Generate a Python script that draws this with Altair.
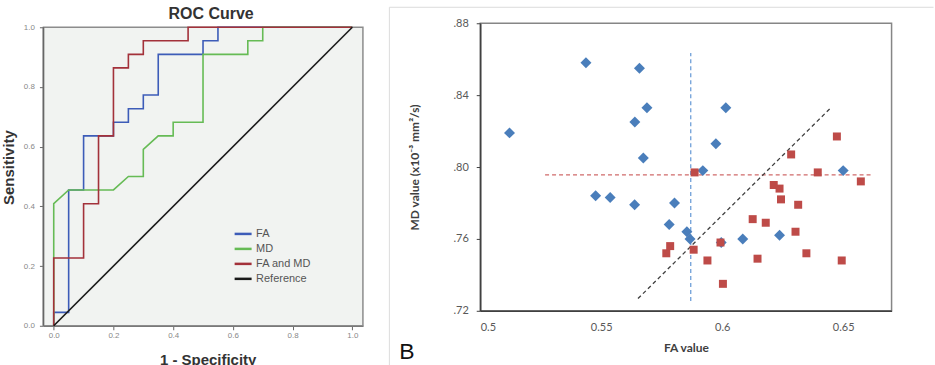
import altair as alt
import pandas as pd

# ---------------- Panel A: ROC curves ----------------
curve_names = ["FA", "MD", "FA and MD", "Reference"]
curve_colors = ["#3d5cb8", "#66bb55", "#a3313a", "#1a1a1a"]

fa_fpr = [0.0, 0.0, 0.05, 0.05, 0.10, 0.10, 0.20, 0.20, 0.25, 0.25, 0.30, 0.30, 0.35, 0.35, 0.50, 0.50, 0.55, 0.55, 1.0]
fa_tpr = [0.0, 0.045, 0.045, 0.455, 0.455, 0.636, 0.636, 0.682, 0.682, 0.727, 0.727, 0.773, 0.773, 0.909, 0.909, 0.955, 0.955, 1.0, 1.0]

md_fpr = [0.0, 0.0, 0.05, 0.20, 0.25, 0.30, 0.30, 0.35, 0.40, 0.40, 0.50, 0.50, 0.65, 0.65, 0.70, 0.70, 1.0]
md_tpr = [0.0, 0.409, 0.455, 0.455, 0.5, 0.5, 0.591, 0.636, 0.636, 0.682, 0.682, 0.909, 0.909, 0.955, 0.955, 1.0, 1.0]

both_fpr = [0.0, 0.0, 0.10, 0.10, 0.15, 0.15, 0.20, 0.20, 0.25, 0.25, 0.30, 0.30, 0.45, 0.45, 1.0]
both_tpr = [0.0, 0.227, 0.227, 0.409, 0.409, 0.636, 0.636, 0.864, 0.864, 0.909, 0.909, 0.955, 0.955, 1.0, 1.0]

ref_fpr = [0.0, 1.0]
ref_tpr = [0.0, 1.0]

axis_ticks = [0.0, 0.2, 0.4, 0.6, 0.8, 1.0]
roc_x_range = [-0.0345, 1.0355]   # plotting frame in data units
roc_y_range = [0.0, 1.0]

# ---------------- Panel B: FA vs MD scatter ----------------
blue_fa = [0.5121, 0.5437, 0.5658, 0.5689, 0.5639, 0.5674, 0.6015, 0.5974, 0.5920, 0.5477,
           0.5537, 0.5638, 0.5803, 0.5781, 0.5854, 0.5867, 0.5996, 0.6085, 0.6237, 0.6500]
blue_md = [0.819, 0.858, 0.855, 0.833, 0.825, 0.805, 0.833, 0.813, 0.798, 0.784,
           0.783, 0.779, 0.780, 0.768, 0.764, 0.760, 0.758, 0.760, 0.762, 0.798]

red_fa = [0.5769, 0.5785, 0.5882, 0.5886, 0.5939, 0.5993, 0.6003, 0.6126, 0.6146, 0.6180, 0.6213,
          0.6237, 0.6243, 0.6285, 0.6314, 0.6303, 0.6348, 0.6395, 0.6474, 0.6494, 0.6573]
red_md = [0.752, 0.756, 0.754, 0.797, 0.748, 0.758, 0.735, 0.771, 0.749, 0.769, 0.790,
          0.788, 0.782, 0.807, 0.779, 0.764, 0.752, 0.797, 0.817, 0.748, 0.792]

fa_cutoff = 0.587
fa_cutoff_span = [0.7255, 0.8634]
md_cutoff = 0.7956
md_cutoff_span = [0.5268, 0.6617]
split_fa = [0.5652, 0.6444]
split_md = [0.7268, 0.8323]

fa_ticks = [0.5, 0.55, 0.6, 0.65]
md_ticks = [0.72, 0.76, 0.80, 0.84, 0.88]

# ---------------- build tables ----------------
rows = []
for name, xs, ys in [("FA", fa_fpr, fa_tpr), ("MD", md_fpr, md_tpr),
                     ("FA and MD", both_fpr, both_tpr), ("Reference", ref_fpr, ref_tpr)]:
    for i, (a, b) in enumerate(zip(xs, ys)):
        rows.append({"curve": name, "fpr": a, "tpr": b, "idx": i})
roc_df = pd.DataFrame(rows)

SPSS_FONT = "Liberation Sans"
XL_FONT = "Lato"

# the y scale leaves a little headroom above 1.0 so this panel's frame
# sits slightly lower than the scatter panel's frame
roc_sx = alt.Scale(domain=roc_x_range, nice=False, zero=False)
roc_sy = alt.Scale(domain=[0.0, 1.01338], nice=False, zero=False)

roc_x_axis = alt.Axis(values=axis_ticks, format=".1f", grid=False,
                      labelFont=SPSS_FONT, labelFontSize=8, labelColor="#888888",
                      tickSize=4, tickColor="#666666", domainColor="#666666", domainWidth=1.6,
                      labelPadding=2,
                      title="1 - Specificity", titleFont=SPSS_FONT, titleFontSize=15,
                      titleFontWeight="bold", titleColor="#333333",
                      titleX=164.5, titleY=39, titleBaseline="alphabetic", titleAlign="center")
roc_y_axis = alt.Axis(values=axis_ticks, format=".1f", grid=False, domain=False,
                      labelFont=SPSS_FONT, labelFontSize=8, labelColor="#888888",
                      tickSize=4, tickColor="#666666",
                      labelPadding=5,
                      title="Sensitivity", titleFont=SPSS_FONT, titleFontSize=15,
                      titleFontWeight="bold", titleColor="#333333",
                      titleX=-34.5, titleY=144, titleBaseline="middle", titleAngle=270,
                      titleAlign="center")

frame_df = pd.DataFrame({"x1": [roc_x_range[0]], "x2": [roc_x_range[1]],
                         "y1": [roc_y_range[0]], "y2": [roc_y_range[1]]})
roc_frame = alt.Chart(frame_df).mark_rect(fill="#f1f3f1", stroke="#8c8c8c", strokeWidth=1.5).encode(
    x=alt.X("x1:Q", scale=roc_sx, axis=roc_x_axis),
    x2="x2:Q",
    y=alt.Y("y1:Q", scale=roc_sy, axis=roc_y_axis),
    y2="y2:Q",
)
roc_left_edge = alt.Chart(frame_df).mark_rule(color="#666666", strokeWidth=1.6).encode(
    x=alt.X("x1:Q", scale=roc_sx, axis=roc_x_axis),
    y=alt.Y("y1:Q", scale=roc_sy, axis=roc_y_axis),
    y2="y2:Q",
)

roc_lines = alt.Chart(roc_df).mark_line(strokeWidth=1.6).encode(
    x=alt.X("fpr:Q", scale=roc_sx, axis=roc_x_axis),
    y=alt.Y("tpr:Q", scale=roc_sy, axis=roc_y_axis),
    color=alt.Color(
        "curve:N",
        scale=alt.Scale(domain=curve_names, range=curve_colors),
        legend=alt.Legend(title=None, orient="none", legendX=190, legendY=201,
                          symbolType="stroke", symbolSize=289, symbolStrokeWidth=2.5,
                          labelFont=SPSS_FONT, labelFontSize=11, labelColor="#555555",
                          rowPadding=-3.2, labelOffset=3, padding=0),
    ),
    order="idx:Q",
)

roc_title = alt.Chart(pd.DataFrame({"t": ["ROC Curve"]})).mark_text(
    font=SPSS_FONT, fontSize=16, fontWeight="bold", color="#333333",
    align="center", baseline="middle",
).encode(text="t:N", x=alt.value(168), y=alt.value(-9))

panel_a = alt.layer(roc_frame, roc_left_edge, roc_lines, roc_title).properties(
    width=320, height=303,
    view=alt.ViewBackground(fill="white", stroke=None, strokeWidth=0),
)

# ---------------- Panel B ----------------
blue_df = pd.DataFrame({"fa": blue_fa, "md": blue_md})
red_df = pd.DataFrame({"fa": red_fa, "md": red_md})

sx = alt.Scale(domain=[0.5, 0.67], nice=False, zero=False)
sy = alt.Scale(domain=[0.72, 0.88], nice=False, zero=False)

bx_axis = alt.Axis(values=fa_ticks, format=".2~f", grid=False, ticks=False, tickSize=0,
                   labelFont=XL_FONT, labelFontSize=11, labelColor="#595959", labelPadding=11,
                   domainColor="#404040", domainWidth=1.6,
                   title="FA value", titleFont=XL_FONT, titleFontSize=12, titleFontWeight="bold",
                   titleColor="#404040", titleX=206, titleY=41, titleBaseline="alphabetic",
                   titleAlign="center")
by_axis = alt.Axis(values=md_ticks, labelExpr="replace(format(datum.value, '.2f'), '0.', '.')",
                   grid=False, tickSize=4, tickColor="#404040",
                   labelFont=XL_FONT, labelFontSize=11, labelColor="#595959", labelPadding=8,
                   domainColor="#404040", domainWidth=1.6,
                   title="MD value (x10⁻³ mm²/s)", titleFont=XL_FONT, titleFontSize=12,
                   titleFontWeight="bold", titleColor="#404040",
                   titleX=-66, titleY=144, titleBaseline="middle", titleAngle=270,
                   titleAlign="center")

blue_pts = alt.Chart(blue_df).mark_point(shape="diamond", filled=True, size=121,
                                          color="#4a7ebb", opacity=1).encode(
    x=alt.X("fa:Q", scale=sx, axis=bx_axis),
    y=alt.Y("md:Q", scale=sy, axis=by_axis),
)
red_pts = alt.Chart(red_df).mark_square(size=64, color="#be4b48", opacity=1).encode(
    x=alt.X("fa:Q", scale=sx, axis=bx_axis),
    y=alt.Y("md:Q", scale=sy, axis=by_axis),
)

vline = alt.Chart(pd.DataFrame({"fa": [fa_cutoff], "y1": [fa_cutoff_span[0]], "y2": [fa_cutoff_span[1]]})).mark_rule(
    color="#6f9fd8", strokeWidth=1.3, strokeDash=[4, 3]).encode(
    x=alt.X("fa:Q", scale=sx, axis=bx_axis), y=alt.Y("y1:Q", scale=sy, axis=by_axis), y2="y2:Q")
hline = alt.Chart(pd.DataFrame({"md": [md_cutoff], "x1": [md_cutoff_span[0]], "x2": [md_cutoff_span[1]]})).mark_rule(
    color="#d06a6a", strokeWidth=1.3, strokeDash=[4, 3]).encode(
    y=alt.Y("md:Q", scale=sy, axis=by_axis), x=alt.X("x1:Q", scale=sx, axis=bx_axis), x2="x2:Q")
split_line = alt.Chart(pd.DataFrame({"x1": [split_fa[0]], "x2": [split_fa[1]],
                                     "y1": [split_md[0]], "y2": [split_md[1]]})).mark_rule(
    color="#404040", strokeWidth=1.3, strokeDash=[4, 3]).encode(
    x=alt.X("x1:Q", scale=sx, axis=bx_axis), x2="x2:Q",
    y=alt.Y("y1:Q", scale=sy, axis=by_axis), y2="y2:Q")

one = pd.DataFrame({"k": [0]})
frame_top = alt.Chart(one).mark_rule(color="#dcdcdc", strokeWidth=1).encode(
    x=alt.value(-91), x2=alt.value(454), y=alt.value(-16))
frame_left = alt.Chart(one).mark_rule(color="#dcdcdc", strokeWidth=1).encode(
    x=alt.value(-91), y=alt.value(-16), y2=alt.value(343))
panel_tag = alt.Chart(pd.DataFrame({"t": ["B"]})).mark_text(
    font="Liberation Sans", fontSize=23, color="#111111", align="left", baseline="alphabetic"
).encode(text="t:N", x=alt.value(-81), y=alt.value(336))

panel_b = alt.layer(vline, hline, split_line, blue_pts, red_pts, frame_top, frame_left, panel_tag).properties(
    width=412, height=288,
    view=alt.ViewBackground(fill="white", stroke="#868686", strokeWidth=1.5),
)

chart = alt.hconcat(panel_a, panel_b, spacing=23.5).properties(
    padding={"left": 1.5, "top": 5, "right": 0, "bottom": 0},
    background="white",
)

chart.save("out.html", embed_options={"renderer": "svg", "actions": False})
